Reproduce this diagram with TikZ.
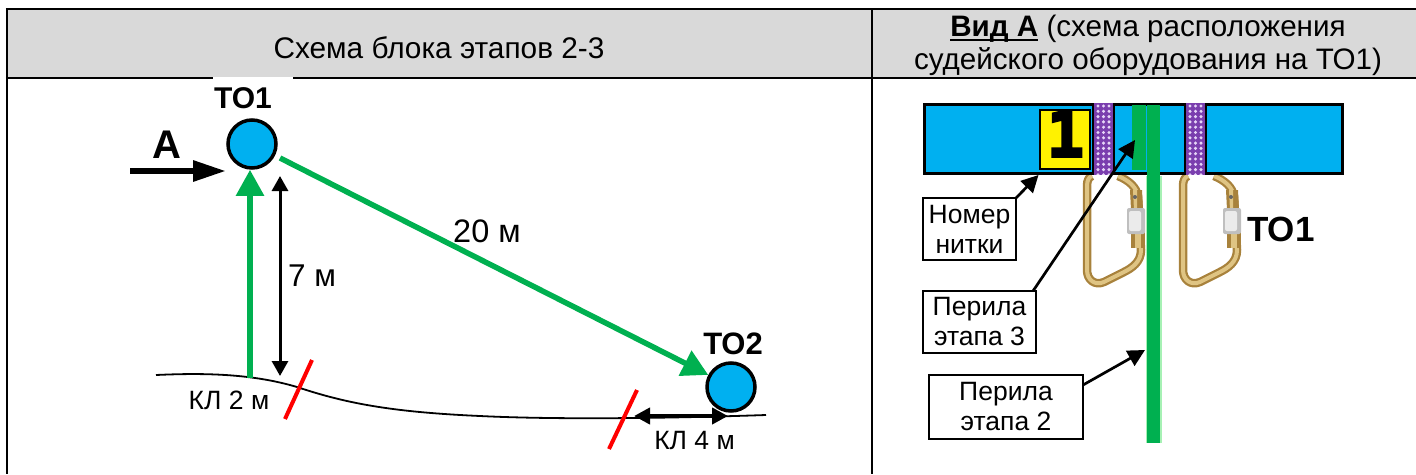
\documentclass[tikz,border=0pt]{standalone}
\usepackage{fontspec}
\setmainfont{Liberation Sans}
\newfontfamily\onefont[BoldFeatures={FakeBold=4}]{DejaVu Sans Mono}
\usetikzlibrary{arrows.meta}
\definecolor{hdr}{HTML}{D9D9D9}
\definecolor{gr}{HTML}{00B050}
\definecolor{bl}{HTML}{00B0F0}
\definecolor{pu}{HTML}{7A3EAE}
\definecolor{dotc}{HTML}{E6D6F7}
\definecolor{golddark}{HTML}{A8823C}
\definecolor{goldlight}{HTML}{DFC483}
\newcommand{\fs}[1]{\fontsize{#1}{#1}\selectfont}
\newcommand{\thickul}[1]{\setbox0\hbox{#1}\rlap{\rule[-5pt]{\wd0}{2.5pt}}\box0\relax}
\tikzset{
  grid/.style={line width=2.5pt,black},
  txt/.style={inner sep=0pt,outer sep=0pt,text=black,align=center},
  hub/.style={circle,draw=black,line width=3.5pt,fill=bl,minimum size=48pt,inner sep=0pt,outer sep=1.75pt},
  label box/.style={draw=black,line width=1.5pt,fill=white,inner sep=0pt,outer sep=0pt,align=center,font=\fs{26.5},execute at begin node={\baselineskip=30pt}},
  thin arrow/.style={line width=2.7pt,-{Triangle[length=17pt,width=17pt]}},
  dim/.style={line width=3pt,{Triangle[length=15pt,width=16pt]}-{Triangle[length=15pt,width=16pt]}},
  rope/.style={line width=5.5pt,gr,-{Triangle[length=26pt,width=27pt]}},
  slash/.style={line width=4pt,red},
  ground/.style={line width=1.8pt,black},
}
\newcommand{\carab}[1]{%
  \begin{scope}[xshift=#1pt]
    \foreach \c/\w in {golddark/8.5,goldlight/4}{
      \draw[\c,line width=\w pt,line join=round]
        (1118,176) .. controls (1128,180) and (1137,187) .. (1138,197)
        -- (1141,250) .. controls (1141,262) and (1132,268) .. (1124,272)
        -- (1104,282) .. controls (1095,286) and (1087,280) .. (1087,270)
        -- (1087,186) .. controls (1087,180) and (1089,177) .. (1092,176);
    }
    \fill[golddark] (1130,190) -- (1142,190) -- (1143,210) -- (1131,210) -- cycle;
    \fill[goldlight] (1133,190) -- (1137,190) -- (1137,210) -- (1134,210) -- cycle;
    \fill[golddark] (1131,232) rectangle (1145,248);
    \fill[goldlight] (1135,232) rectangle (1141,248);
    \fill[black!60] (1135,197) circle (2pt);
    \fill[black!25,rounded corners=2pt] (1127,208) rectangle (1145,234);
    \fill[black!8,rounded corners=2pt] (1129,211) rectangle (1141,231);
  \end{scope}}
\newcommand{\strip}[1]{%
  \begin{scope}
    \fill[pu] (#1,103) rectangle ++(21,72);
    \clip (#1,104) rectangle ++(21,70);
    \foreach \j in {0,...,13}{
      \foreach \i in {0,1,2}{
        \fill[dotc] (#1+5+5.5*\i,106+5.3*\j) circle (1.7pt);
      }
    }
  \end{scope}
  \draw[black,line width=2.5pt] (#1,103) -- ++(0,72) (#1+21,103) -- ++(0,72);}
\begin{document}
\begin{tikzpicture}[x=1pt,y=-1pt]
\useasboundingbox (0,0) rectangle (1416,474);
% table
\fill[hdr] (7,8) rectangle (1416,78);
\draw[grid] (5.75,9) -- (1416,9);
\draw[grid] (5.75,78) -- (1416,78);
\draw[grid] (7,8) -- (7,474);
\draw[grid] (872,8) -- (872,474);
\fill[white] (213,76.5) rectangle (293,79.5);
\node[txt,font=\fs{29.8}] (title1) at (439,48) {Схема блока этапов 2-3};
\node[txt,font=\fs{29.6},anchor=base] (title2a) at (1148,36) {\thickul{\textbf{Вид А}} (схема расположения};
\node[txt,font=\fs{29.6},anchor=base] (title2b) at (1148,69) {судейского оборудования на ТО1)};
% left scheme
\node[hub] (to1) at (252,144) {};
\node[hub] (to2) at (731,387) {};
\node[txt,font=\fs{30}\bfseries] (lto1) at (243,98) {ТО1};
\node[txt,font=\fs{31}\bfseries] (lto2) at (733,344) {ТО2};
\node[txt,font=\fs{40}\bfseries] (la) at (167,145) {А};
\coordinate (astart) at (130,171);
\coordinate (atip) at (226,171);
\draw[line width=6pt,-{Triangle[length=33pt,width=20pt]}] (astart) -- (atip);
\draw[ground] (156,375) .. controls (200,373) and (250,373) .. (297,387)
  .. controls (345,403) and (390,412) .. (480,416)
  .. controls (560,420) and (680,418) .. (766,415);
\coordinate (up) at (250,378);
\draw[rope] (up) -- (to1.south -| up);
\coordinate (dtop) at (280,176);
\coordinate (dbot) at (280,376);
\draw[dim] (dtop) -- (dbot);
\coordinate (dstart) at (280,158);
\draw[rope] (dstart) -- (to2.152);
\node[txt,font=\fs{32.5}] (l20) at (487,231) {20 м};
\node[txt,font=\fs{31.5}] (l7) at (312,276) {7 м};
\node[txt,font=\fs{26.5}] (kl2) at (229,400) {КЛ 2 м};
\node[txt,font=\fs{26.5}] (kl4) at (694.5,440) {КЛ 4 м};
\coordinate (s1a) at (312,360); \coordinate (s1b) at (285,419);
\coordinate (s2a) at (637,390); \coordinate (s2b) at (609,449);
\draw[slash] (s1a) -- (s1b);
\draw[slash] (s2a) -- (s2b);
\coordinate (kl4l) at (634,416); \coordinate (kl4r) at (728,416);
\draw[line width=4pt,{Triangle[length=16pt,width=16pt]}-{Triangle[length=16pt,width=16pt]}] (kl4l) -- (kl4r);
% right view: carabiners
\carab{0}
\carab{96}
% bar
\node[draw=black,line width=3pt,fill=bl,minimum width=418pt,minimum height=69pt,inner sep=0pt,outer sep=1.5pt] (bar) at (1133.5,139) {};
\node[draw=black,line width=2pt,fill=yellow,minimum width=50pt,minimum height=59pt,inner sep=0pt] (num) at (1064.5,139) {};
\node[txt,font=\fs{62}\onefont\bfseries] (one) at (1065.5,134) {1};
\strip{1093}
\strip{1185}
\fill[gr] (1132,105) rectangle (1146,170);
\fill[green!50!gr,opacity=.35] (1146,176) rectangle (1161.5,443);
\fill[gr] (1147,105) rectangle (1160,443);
\node[txt,font=\fs{35}\bfseries] (to1r) at (1281,229) {ТО1};
% callouts
\node[label box,minimum width=93pt,minimum height=62pt] (nomer) at (969.5,229) {Номер\\нитки};
\node[label box,minimum width=113pt,minimum height=62pt] (per3) at (979.5,322) {Перила\\этапа 3};
\node[label box,minimum width=154pt,minimum height=64pt] (per2) at (1006,407) {Перила\\этапа 2};
\coordinate (tipn) at (bar.south -| num.west);
\coordinate (tip3) at (1135,140);
\coordinate (tip2) at (1145,350);
\draw[thin arrow] (nomer.north east) -- (tipn);
\draw[thin arrow] ([xshift=-3pt]per3.north east) -- (tip3);
\draw[thin arrow] ([yshift=22pt]per2.east) -- (tip2);
\end{tikzpicture}
\end{document}
